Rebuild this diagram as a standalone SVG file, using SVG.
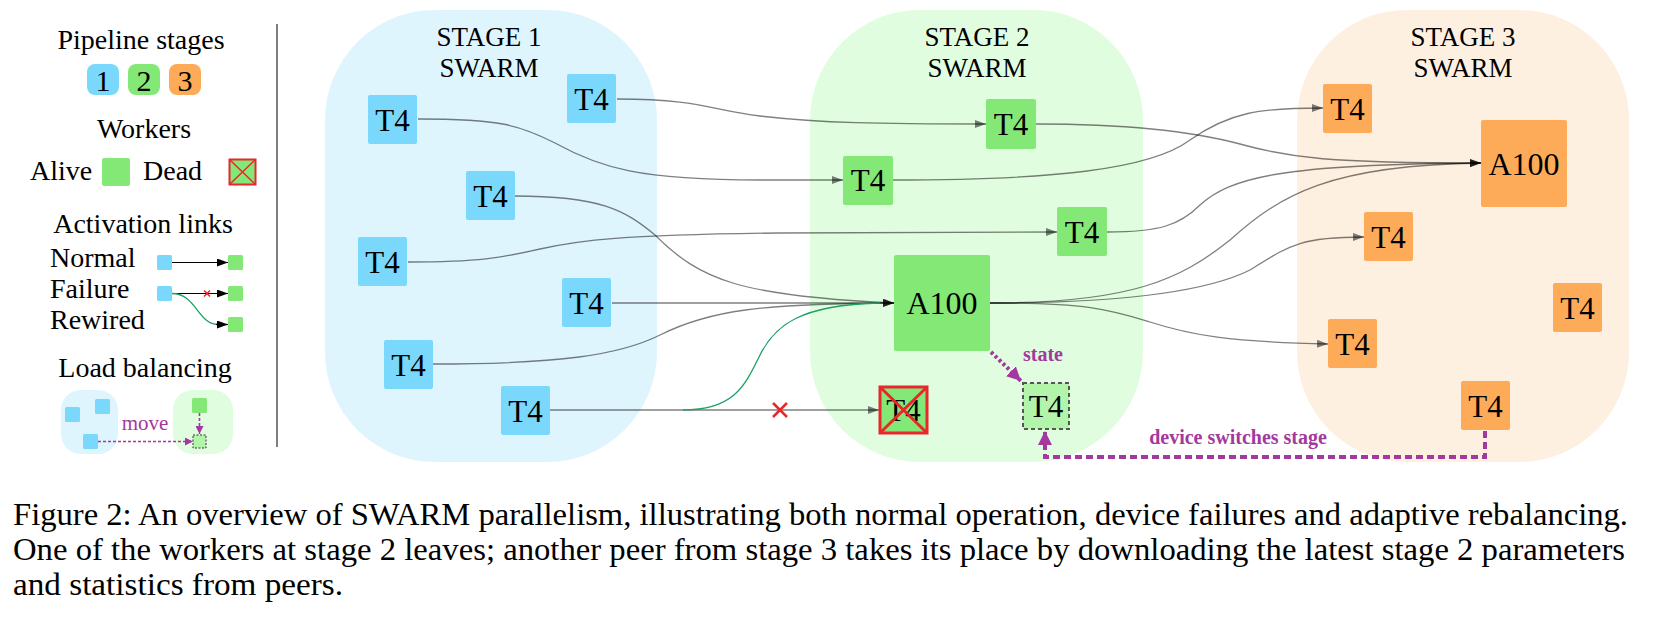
<svg xmlns="http://www.w3.org/2000/svg" width="1657" height="624" viewBox="0 0 1657 624" font-family="'Liberation Serif','Times New Roman',serif">
<defs>
<style>
text{font-family:"Liberation Serif","Times New Roman",serif;fill:#000}
.b{fill:#7ad8fc}
.g{fill:#84e876}
.o{fill:#fdab58}
.nt{font-size:31px;text-anchor:middle}
.at{font-size:32px;text-anchor:middle}
.st{font-size:27px;text-anchor:middle}
.lg{font-size:28px}
.c{fill:none;stroke:#000;stroke-opacity:0.5;stroke-width:1.3}
</style>
<marker id="ah" markerUnits="userSpaceOnUse" markerWidth="12" markerHeight="8" refX="11" refY="4" orient="auto">
<path d="M0,0 L11,4 L0,8 z" fill="#000" fill-opacity="0.5"/>
</marker>
<marker id="ahk" markerUnits="userSpaceOnUse" markerWidth="12" markerHeight="8" refX="11" refY="4" orient="auto">
<path d="M0,0 L11,4 L0,8 z" fill="#000"/>
</marker>
<marker id="ahp" markerUnits="userSpaceOnUse" markerWidth="16" markerHeight="14" refX="14" refY="7" orient="auto">
<path d="M0,0 L14,7 L0,14 z" fill="#a3399e"/>
</marker>
<marker id="ahps" markerUnits="userSpaceOnUse" markerWidth="9" markerHeight="8" refX="8" refY="4" orient="auto">
<path d="M0,0 L8,4 L0,8 z" fill="#a3399e"/>
</marker>
</defs>
<rect width="1657" height="624" fill="#fff"/>

<!-- Legend -->
<g id="legend">
<text class="lg" x="141" y="49" text-anchor="middle">Pipeline stages</text>
<rect x="87" y="64" width="32" height="31" rx="8" class="b"/>
<rect x="128" y="64" width="32" height="31" rx="8" class="g"/>
<rect x="169" y="64" width="32" height="31" rx="8" class="o"/>
<text x="103" y="91" font-size="30" text-anchor="middle">1</text>
<text x="144" y="91" font-size="30" text-anchor="middle">2</text>
<text x="185" y="91" font-size="30" text-anchor="middle">3</text>
<text class="lg" x="144" y="138" text-anchor="middle">Workers</text>
<text class="lg" x="30" y="180">Alive</text>
<rect x="102" y="158" width="28" height="28" rx="2" class="g"/>
<text class="lg" x="143" y="180">Dead</text>
<rect x="229.5" y="159.5" width="26" height="25" class="g" stroke="#e8262b" stroke-width="2"/>
<path d="M229.5,159.5 L255.5,184.5 M255.5,159.5 L229.5,184.5" stroke="#e8262b" stroke-width="1.5"/>
<text class="lg" x="143" y="233" text-anchor="middle">Activation links</text>
<text class="lg" x="50" y="267">Normal</text>
<text class="lg" x="50" y="298">Failure</text>
<text class="lg" x="50" y="329">Rewired</text>
<rect x="157" y="255" width="15" height="15" rx="1.5" class="b"/>
<rect x="228" y="255" width="15" height="15" rx="1.5" class="g"/>
<rect x="157" y="286" width="15" height="15" rx="1.5" class="b"/>
<rect x="228" y="286" width="15" height="15" rx="1.5" class="g"/>
<rect x="228" y="317" width="15" height="15" rx="1.5" class="g"/>
<path d="M172,262.5 L228,262.5" stroke="#000" stroke-width="1.2" marker-end="url(#ahk)"/>
<path d="M172,293.5 L228,293.5" stroke="#000" stroke-width="1.2" marker-end="url(#ahk)"/>
<path d="M204,290.5 L210,296.5 M210,290.5 L204,296.5" stroke="#e8262b" stroke-width="1.5"/>
<path d="M172,293.5 C 196,293.5 198,324.5 218,324.5" fill="none" stroke="#1aa060" stroke-width="1.3"/>
<path d="M216,324.5 L228,324.5" stroke="#000" stroke-width="1.2" marker-end="url(#ahk)"/>
<text class="lg" x="145" y="377" text-anchor="middle">Load balancing</text>
<rect x="61" y="390" width="57" height="64" rx="20" fill="#dff5fe"/>
<rect x="173" y="390" width="60" height="64" rx="20" fill="#e1fde0"/>
<rect x="65" y="407" width="15" height="15" rx="1.5" class="b"/>
<rect x="95" y="399" width="15" height="15" rx="1.5" class="b"/>
<rect x="83" y="434" width="15" height="15" rx="1.5" class="b"/>
<rect x="192" y="398" width="15" height="15" rx="1.5" class="g"/>
<rect x="193" y="435" width="13" height="13" fill="#b2f5aa" stroke="#333" stroke-width="1" stroke-dasharray="2,1.5"/>
<path d="M199.5,413 L199.5,434" stroke="#a3399e" stroke-width="1.6" stroke-dasharray="3,2" marker-end="url(#ahps)"/>
<path d="M98,441.5 L193,441.5" stroke="#a3399e" stroke-width="1.6" stroke-dasharray="3,2" marker-end="url(#ahps)"/>
<text x="145" y="430" font-size="21" text-anchor="middle" style="fill:#a3399e">move</text>
</g>
<path d="M277,24 L277,447" stroke="#000" stroke-width="1"/>

<!-- Stage panels -->
<g id="stage1">
<rect x="325" y="10" width="332" height="452" rx="110" ry="110" fill="#dff5fe"/>
<text class="st" x="489" y="46">STAGE 1</text>
<text class="st" x="489" y="77">SWARM</text>
</g>
<g id="stage2">
<rect x="810" y="10" width="333" height="452" rx="110" ry="110" fill="#e1fde0"/>
<text class="st" x="977" y="46">STAGE 2</text>
<text class="st" x="977" y="77">SWARM</text>
</g>
<g id="stage3">
<rect x="1297" y="10" width="332" height="452" rx="110" ry="110" fill="#fef0e0"/>
<text class="st" x="1463" y="46">STAGE 3</text>
<text class="st" x="1463" y="77">SWARM</text>
</g>

<!-- Connectors -->
<g id="connectors">
<path class="c" d="M418,119 C 500,119 520,125 555,143 C 600,168 640,180 760,180 L843,180" marker-end="url(#ah)"/>
<path class="c" d="M617,99 C 700,99 710,110 760,116 C 820,123 880,124 986,124" marker-end="url(#ah)"/>
<path class="c" d="M515,196 C 600,196 625,210 655,235 C 700,280 740,296 894,303" marker-end="url(#ah)"/>
<path class="c" d="M408,262 C 480,262 500,258 540,249 C 580,240 620,235 780,233 L1057,232" marker-end="url(#ah)"/>
<path class="c" d="M612,303 L894,303" marker-end="url(#ah)"/>
<path class="c" d="M433,364 C 560,364 620,355 660,335 C 710,310 760,304 894,303" marker-end="url(#ah)"/>
<path class="c" d="M550,410 L879,410" marker-end="url(#ah)"/>
<path d="M683,410 C 735,410 745,385 760,355 C 775,325 800,305 880,303" fill="none" stroke="#1aa060" stroke-width="1.3"/>
<path d="M773,403 L787,417 M787,403 L773,417" stroke="#e8262b" stroke-width="2.5"/>
<path class="c" d="M1036,124 C 1100,124 1180,128 1240,144 C 1290,158 1330,163 1481,163" marker-end="url(#ah)"/>
<path class="c" d="M893,180 C 1050,180 1150,170 1190,140 C 1230,112 1260,108 1323,108" marker-end="url(#ah)"/>
<path class="c" d="M1107,232 C 1160,232 1180,225 1200,205 C 1230,178 1280,164 1481,163" marker-end="url(#ah)"/>
<path class="c" d="M990,303 C 1130,303 1180,280 1230,240 C 1280,195 1330,165 1481,163" marker-end="url(#ah)"/>
<path class="c" d="M990,303 C 1100,303 1200,295 1250,270 C 1290,245 1300,237 1364,237" marker-end="url(#ah)"/>
<path class="c" d="M990,303 C 1090,303 1110,310 1150,322 C 1190,335 1230,342 1328,344" marker-end="url(#ah)"/>
<path d="M991,352 L1021,381" fill="none" stroke="#a3399e" stroke-width="4" stroke-dasharray="3,2.5" marker-end="url(#ahp)"/>
<path d="M1485,431 L1485,457 L1045,457 L1045,431" fill="none" stroke="#a3399e" stroke-width="4" stroke-dasharray="7,4" marker-end="url(#ahp)"/>
<text x="1043" y="361" font-size="20" font-weight="bold" text-anchor="middle" style="fill:#a3399e">state</text>
<text x="1238" y="444" font-size="20" font-weight="bold" text-anchor="middle" style="fill:#a3399e">device switches stage</text>
</g>

<!-- Stage 1 nodes -->
<g id="s1n1"><rect x="368" y="95" width="49" height="49" rx="2" class="b"/><text class="nt" x="392.5" y="131">T4</text></g>
<g id="s1n2"><rect x="567" y="74" width="49" height="49" rx="2" class="b"/><text class="nt" x="591.5" y="110">T4</text></g>
<g id="s1n3"><rect x="466" y="171" width="49" height="49" rx="2" class="b"/><text class="nt" x="490.5" y="207">T4</text></g>
<g id="s1n4"><rect x="358" y="237" width="49" height="49" rx="2" class="b"/><text class="nt" x="382.5" y="273">T4</text></g>
<g id="s1n5"><rect x="562" y="278" width="49" height="49" rx="2" class="b"/><text class="nt" x="586.5" y="314">T4</text></g>
<g id="s1n6"><rect x="384" y="340" width="49" height="49" rx="2" class="b"/><text class="nt" x="408.5" y="376">T4</text></g>
<g id="s1n7"><rect x="501" y="386" width="49" height="49" rx="2" class="b"/><text class="nt" x="525.5" y="422">T4</text></g>

<!-- Stage 2 nodes -->
<g id="s2n1"><rect x="986" y="99" width="50" height="50" rx="2" class="g"/><text class="nt" x="1011" y="135">T4</text></g>
<g id="s2n2"><rect x="843" y="156" width="50" height="49" rx="2" class="g"/><text class="nt" x="868" y="191">T4</text></g>
<g id="s2n3"><rect x="1057" y="207" width="50" height="49" rx="2" class="g"/><text class="nt" x="1082" y="243">T4</text></g>
<g id="s2a100"><rect x="894" y="255" width="96" height="96" rx="2" class="g"/><text class="at" x="942" y="314">A100</text></g>
<g id="s2dead"><rect x="880" y="387" width="47" height="46" class="g" stroke="#e8262b" stroke-width="3"/><text class="nt" x="903.5" y="421">T4</text><path d="M880,387 L927,433 M927,387 L880,433" stroke="#e8262b" stroke-width="3"/></g>
<g id="s2new"><rect x="1023" y="383" width="46" height="46" fill="#b2f5aa" stroke="#555" stroke-width="2" stroke-dasharray="4,3"/><text class="nt" x="1046" y="417">T4</text></g>

<!-- Stage 3 nodes -->
<g id="s3n1"><rect x="1323" y="84" width="49" height="49" rx="2" class="o"/><text class="nt" x="1347.5" y="120">T4</text></g>
<g id="s3a100"><rect x="1481" y="120" width="86" height="87" rx="2" class="o"/><text class="at" x="1524" y="175">A100</text></g>
<g id="s3n2"><rect x="1364" y="212" width="49" height="49" rx="2" class="o"/><text class="nt" x="1388.5" y="248">T4</text></g>
<g id="s3n3"><rect x="1553" y="283" width="49" height="49" rx="2" class="o"/><text class="nt" x="1577.5" y="319">T4</text></g>
<g id="s3n4"><rect x="1328" y="319" width="49" height="49" rx="2" class="o"/><text class="nt" x="1352.5" y="355">T4</text></g>
<g id="s3n5"><rect x="1461" y="381" width="49" height="49" rx="2" class="o"/><text class="nt" x="1485.5" y="417">T4</text></g>

<!-- Caption -->
<g id="caption" style="font-size:31px">
<text x="13" y="525" textLength="1615" lengthAdjust="spacingAndGlyphs">Figure 2: An overview of SWARM parallelism, illustrating both normal operation, device failures and adaptive rebalancing.</text>
<text x="13" y="560" textLength="1612" lengthAdjust="spacingAndGlyphs">One of the workers at stage 2 leaves; another peer from stage 3 takes its place by downloading the latest stage 2 parameters</text>
<text x="13" y="595" textLength="330" lengthAdjust="spacingAndGlyphs">and statistics from peers.</text>
</g>
</svg>
